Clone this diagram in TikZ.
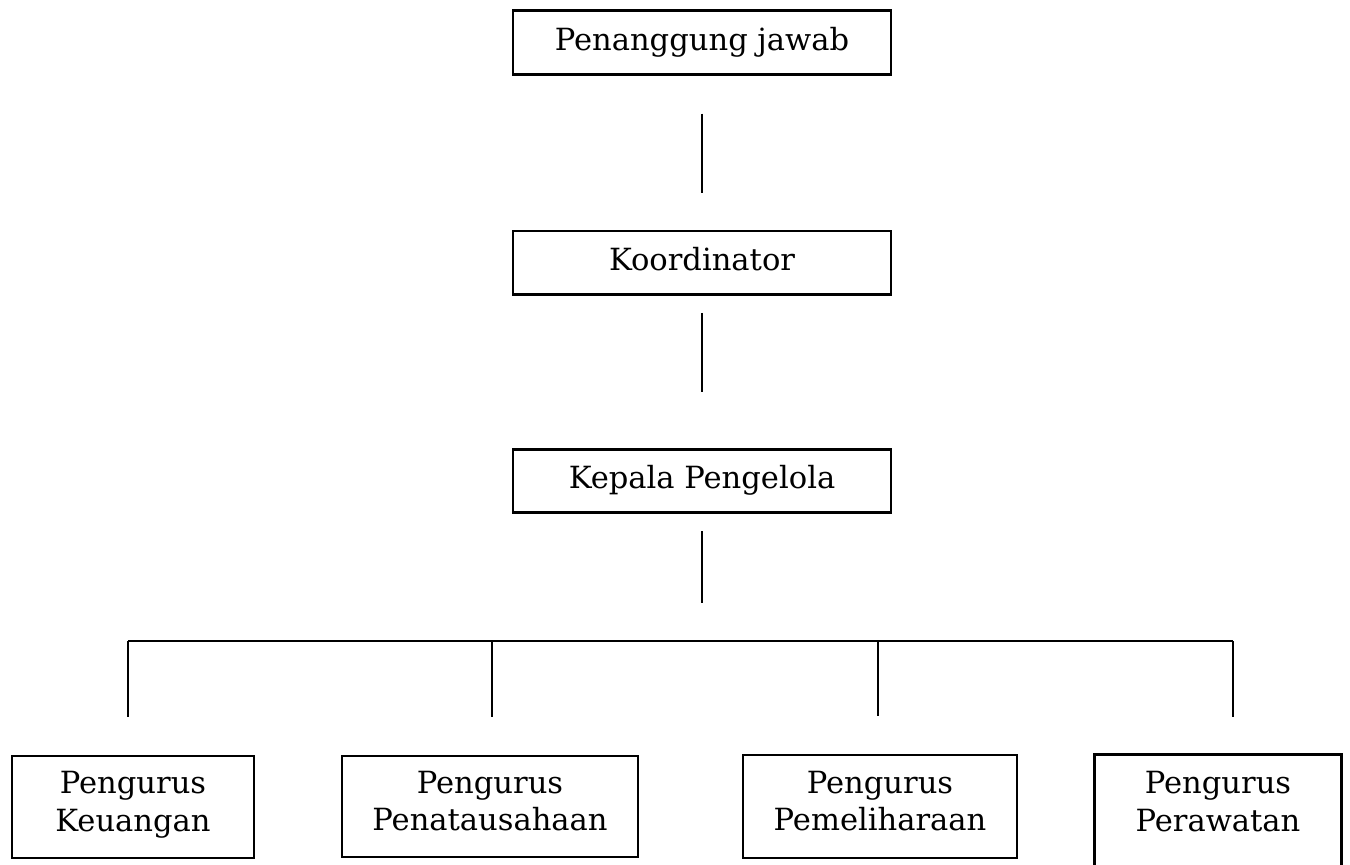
\documentclass[tikz,border=0pt]{standalone}
\usepackage{fontspec}
\setmainfont{DejaVu Serif}
\usetikzlibrary{positioning}

\begin{document}
\begin{tikzpicture}[
    x=0.02cm, y=-0.02cm,
    node distance=3.06cm,
    box/.style={rectangle, draw, line width=1.6pt, inner sep=0pt, align=center, font=\fontsize{17.4}{21.5}\selectfont, execute at end node=\strut},
    topbox/.style={box, minimum width=7.56cm, minimum height=1.27cm},
    link/.style={line width=1.4pt},
]
\useasboundingbox (0,0) rectangle (1350,865);

% Top column
\node[topbox] (pj) at (702,42.5) {Penanggung jawab};
\node[topbox, below=3.08cm of pj] (koor) {Koordinator};
\node[topbox, below=3.04cm of koor] (kepala) {Kepala Pengelola};

% Bottom row
\node[box, minimum width=4.84cm, minimum height=2.04cm] (keu) at (133,807) {Pengurus\\Keuangan};
\node[box, minimum width=5.92cm, minimum height=2.02cm] (tata) at (490,806.5) {Pengurus\\Penatausahaan};
\node[box, minimum width=5.48cm, minimum height=2.06cm] (pelihara) at (880,806.5) {Pengurus\\Pemeliharaan};
\node[box, draw=none, minimum width=4.88cm, minimum height=2.04cm] (rawat) at (1218,807) {Pengurus\\Perawatan};
\draw[line width=1.6pt] (rawat.south west) ++(0,20) |- (rawat.north east) -- ++(0,130);

% Bus
\coordinate (b1) at (128,641);
\coordinate (b2) at (492,641);
\coordinate (b3) at (878,641);
\coordinate (b4) at (1233,641);
\coordinate (hub) at (kepala |- b1);

\draw[link, shorten <=0.76cm, shorten >=0.74cm] (pj) -- (koor);
\draw[link, shorten <=0.34cm, shorten >=1.12cm] (koor) -- (kepala);
\draw[link, shorten <=0.34cm, shorten >=0.76cm] (kepala) -- (hub);
\draw[link] (b1) -- (b4);
\foreach \b/\n in {b1/keu, b2/tata, b3/pelihara, b4/rawat}
    \draw[link, shorten >=0.76cm] (\b) -- (\b |- \n.north);

\end{tikzpicture}
\end{document}
